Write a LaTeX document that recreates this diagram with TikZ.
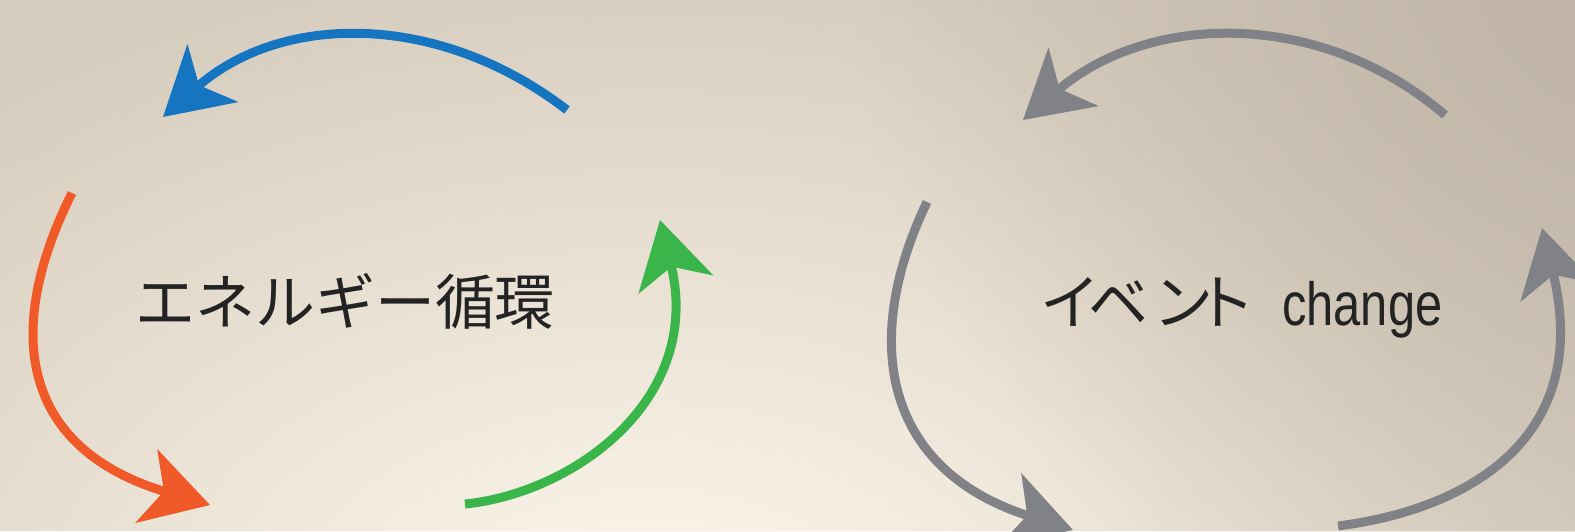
\documentclass[tikz,border=0pt]{standalone}
\usepackage{fontspec}
\usetikzlibrary{arrows.meta,fadings}
\newfontfamily\jpfont{Noto Sans CJK JP}
\newfontfamily\chgfont[FakeStretch=0.8]{Liberation Sans}
\definecolor{bgbase}{RGB}{214,204,189}
\definecolor{bglight}{RGB}{255,249,238}
\definecolor{bgdark}{RGB}{188,177,162}
\definecolor{cblue}{RGB}{22,117,193}
\definecolor{corange}{RGB}{240,90,40}
\definecolor{cgreen}{RGB}{58,181,74}
\definecolor{cgray}{RGB}{128,130,136}
\definecolor{ctext}{RGB}{35,35,35}
\tikzfading[name=blobfade, inner color=transparent!0, outer color=transparent!100]
\begin{document}
\begin{tikzpicture}[x=1pt,y=-1pt,
  arc/.style={line width=9pt, -{Stealth[length=66pt,width=76pt,inset=18pt]}},
  lbl/.style={inner sep=0pt, text=ctext}]
\useasboundingbox (0,0) rectangle (1575,531);
\begin{scope}
\clip (0,0) rectangle (1575,531);
\fill[bgbase] (0,0) rectangle (1575,531);
\fill[bglight, path fading=blobfade] (650,640) ellipse [x radius=1100, y radius=700];
\fill[bgdark, path fading=blobfade] (1650,-60) circle [radius=800];
\end{scope}
% left cycle
\coordinate (bs) at (567,110);
\coordinate (be) at (163,117);
\coordinate (os) at (72,193);
\coordinate (oe) at (210,505);
\coordinate (gs) at (465,504);
\coordinate (ge) at (660,220);
% right cycle
\coordinate (rts) at (1445,115);
\coordinate (rte) at (1023,120);
\coordinate (rls) at (927,202);
\coordinate (rle) at (1073,530);
\coordinate (rrs) at (1338,526);
\coordinate (rre) at (1542,228);
\begin{scope}
\clip (0,0) rectangle (1575,531);
\draw[arc, cblue] (bs) .. controls (440.6,12.4) and (283,11.4) .. (be);
\draw[arc, corange] (os) .. controls (2,333) and (22,449) .. (oe);
\draw[arc, cgreen] (gs) .. controls (574,493) and (704,399) .. (ge);
\draw[arc, cgray] (rts) .. controls (1319.6,7.75) and (1148.4,12.75) .. (rte);
\draw[arc, cgray] (rls) .. controls (860,342) and (884,470) .. (rle);
\draw[arc, cgray] (rrs) .. controls (1477,508) and (1592,432) .. (rre);
\end{scope}
\node[lbl, font=\jpfont\fontsize{60}{60}\selectfont, anchor=base] (t1) at (345,324) {エネルギー循環};
\node[lbl, font=\jpfont\fontsize{60}{60}\selectfont, anchor=base west] (t2) at (1040,324) {イ\kern-12ptベ\kern5ptン\kern-18ptト};
\node[lbl, font=\chgfont\fontsize{61}{61}\selectfont, anchor=base west] (t3) at (1282,325) {change};
\end{tikzpicture}
\end{document}
